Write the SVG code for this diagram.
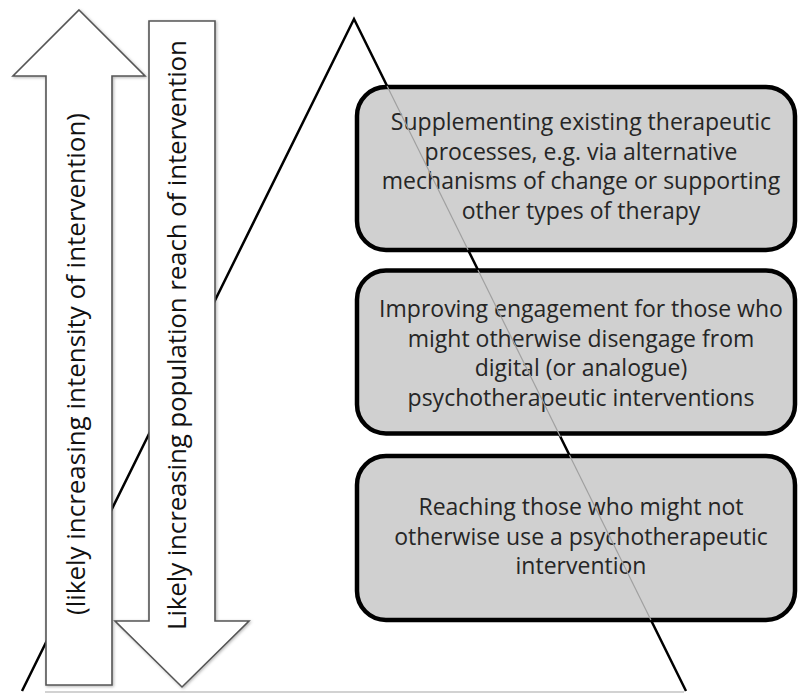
<svg xmlns="http://www.w3.org/2000/svg" width="800" height="693" viewBox="0 0 800 693">
<defs>
<filter id="sh" x="-20%" y="-5%" width="140%" height="110%">
<feDropShadow dx="1" dy="1" stdDeviation="1.5" flood-color="#000" flood-opacity="0.3"/>
</filter>
</defs>
<style>
.tri{fill:none;stroke:#000;stroke-width:2.5;stroke-linejoin:miter}
.base{stroke:#a6a6a6;stroke-width:1.2}
.arrow{fill:#fff;stroke:#555;stroke-width:1.6;stroke-linejoin:miter;filter:url(#sh)}
.box{fill:#d0d0d0;stroke:#000;stroke-width:4.5}
.thin{stroke:#a0a0a0;stroke-width:1.2}
.bt{font-family:"Open Sans","Noto Sans","Liberation Sans",sans-serif;font-size:23px;fill:#262626;text-anchor:middle}
.rt{font-family:"Open Sans","Noto Sans","Liberation Sans",sans-serif;font-size:26px;fill:#111;text-anchor:middle}
</style>
<rect width="800" height="693" fill="#fff"/>
<g id="triangle">
<polyline class="tri" points="22,691 354,19 686,691"/>
<line class="base" x1="45" y1="692" x2="684" y2="692"/>
</g>
<g id="arrow-up">
<polygon class="arrow" points="79,10 145,76 112,76 112,685 46,685 46,76 13,76"/>
<text class="rt" transform="translate(85,364) rotate(-90)" textLength="502" lengthAdjust="spacing">(likely increasing intensity of intervention)</text>
</g>
<g id="arrow-down">
<polygon class="arrow" points="149,21 215,21 215,621 249,621 182,687 115,621 149,621"/>
<text class="rt" transform="translate(186,335) rotate(-90)" textLength="590" lengthAdjust="spacing">Likely increasing population reach of intervention</text>
</g>
<g id="box1">
<rect class="box" x="357" y="87" width="438" height="163" rx="29" ry="29"/>
<text class="bt"><tspan x="581" y="130">Supplementing existing therapeutic</tspan><tspan x="581" y="159.5">processes, e.g. via alternative</tspan><tspan x="581" y="189">mechanisms of change or supporting</tspan><tspan x="581" y="218.5">other types of therapy</tspan></text>
</g>
<g id="box2">
<rect class="box" x="357" y="270.5" width="438" height="163" rx="29" ry="29"/>
<text class="bt"><tspan x="581" y="317">Improving engagement for those who</tspan><tspan x="581" y="346.5">might otherwise disengage from</tspan><tspan x="581" y="376">digital (or analogue)</tspan><tspan x="581" y="405.5">psychotherapeutic interventions</tspan></text>
</g>
<g id="box3">
<rect class="box" x="357" y="456" width="438" height="164" rx="29" ry="29"/>
<text class="bt"><tspan x="581" y="515">Reaching those who might not</tspan><tspan x="581" y="544.5">otherwise use a psychotherapeutic</tspan><tspan x="581" y="574">intervention</tspan></text>
</g>
<g id="connectors">
<line class="thin" x1="387.1" y1="86" x2="468.1" y2="250"/>
<line class="thin" x1="478" y1="270" x2="560.5" y2="437"/>
<line class="thin" x1="569.4" y1="455" x2="650.9" y2="620"/>
</g>
</svg>
